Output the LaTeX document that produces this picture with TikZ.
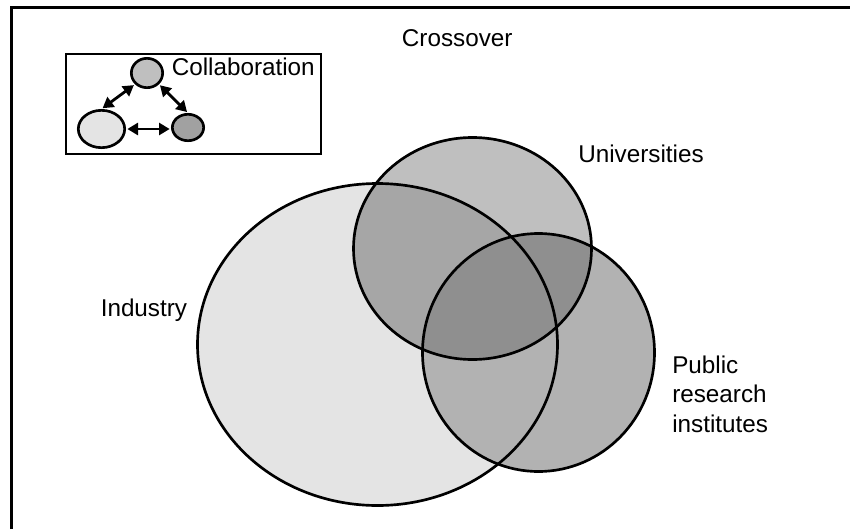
\documentclass[tikz,border=0pt]{standalone}
\usepackage{fontspec}
\setmainfont{Liberation Sans}
\definecolor{indgray}{gray}{0.894}
\definecolor{unigray}{gray}{0.750}
\definecolor{pubgray}{gray}{0.700}
\definecolor{iugray}{gray}{0.650}
\definecolor{upgray}{gray}{0.560}
\usetikzlibrary{shapes.geometric,arrows.meta}
\tikzset{
	>={Triangle[length=8pt,width=9pt]},
	setline/.style={draw=black, line width=2pt},
	tag/.style={
		font=\fontsize{18.2}{22.1}\selectfont,
		inner sep=0pt,
		align=left,
		anchor=base west},
	dot/.style={
		ellipse,
		draw, line width=2pt,
		inner sep=0pt},
	link/.style={<->, line width=2.1pt, shorten >=1pt, shorten <=1pt},
}
% the three sets, in pixel units
\def\industry{(377.5,344.5) ellipse [x radius=180, y radius=161]}
\def\univ{(472.5,248.5) ellipse [x radius=119, y radius=111]}
\def\publ{(538.5,352.5) ellipse [x radius=116, y radius=119]}

\begin{document}
\begin{tikzpicture}
[x=0.75pt, y=-0.75pt]
\useasboundingbox (0,0) rectangle (850,529);

% frame
\draw[line width=2.2pt] (11.5,529) -- (11.5,7.5) -- (850,7.5);

% overlapping sets
\fill[indgray] \industry;
\fill[unigray] \univ;
\begin{scope}
	\clip \industry;
	\fill[iugray] \univ;
\end{scope}
\fill[pubgray] \publ;
\begin{scope}
	\clip \univ;
	\fill[upgray] \publ;
\end{scope}
\draw[setline] \industry;
\draw[setline] \univ;
\draw[setline] \publ;

\node[tag] (cross) at (401.7,46.7) {Crossover};
\node[tag] (unis) at (578,162) {Universities};
\node[tag] (indus) at (100.5,316.7) {Industry};
% base sits on the last line here
\node[tag] (pri) at (672,432) {Public\\research\\institutes};

% inset
\draw[line width=1.9pt] (66,54) rectangle (321,154);
\node[dot, fill=unigray, minimum width=23.5pt, minimum height=22pt] (top) at (147,73) {};
\node[dot, fill=indgray, minimum width=34.8pt, minimum height=28pt] (left) at (101.5,129) {};
\node[dot, fill=pubgray!90!black, minimum width=23.5pt, minimum height=19.8pt] (right) at (188,127.5) {};
\node[tag] (collab) at (171.5,75) {Collaboration};

\draw[link] (top.south west) -- (left.north);
\draw[link] (top.south east) -- (right.north);
\draw[link] (left.east) -- (left.east -| right.west);
\end{tikzpicture}
\end{document}
